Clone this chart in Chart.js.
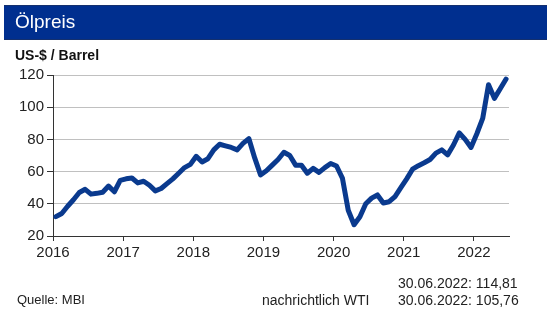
<!DOCTYPE html>
<html>
<head>
    <meta charset="utf-8">
    <title>Ölpreis</title>
    <script src="https://cdn.jsdelivr.net/npm/chart.js@4.4.0/dist/chart.umd.min.js"></script>
    <style>
    body {
        margin: 0;
        background: #fff;
        font-family: "Liberation Sans", Arial, sans-serif;
    }
    #wrap {
        position: relative;
        width: 557px;
        height: 322px;
    }
    #kopf {
        position: absolute;
        left: 4px; top: 5px;
        width: 543px; height: 35px;
        background: #002f8f;
        border-top: 1px solid #14306e;
        border-bottom: 1px solid #14306e;
        box-sizing: border-box;
    }
    #kopf span {
        position: absolute;
        left: 11px; top: 5px;
        color: #fff;
        font-size: 19px;
    }
    .txt {
        position: absolute;
        color: #222;
        font-size: 14px;
        white-space: nowrap;
    }
    </style>
</head>

<body>
<div id="wrap">
    <canvas id="myCanvas" width="557" height="322"></canvas>
    <div id="kopf"><span>Ölpreis</span></div>
    <div class="txt" style="left:15px; top:47px; font-weight:bold; font-size:14px; color:#111;">US-$ / Barrel</div>
    <div class="txt" style="left:17px; top:292px; font-size:13px;">Quelle: MBI</div>
    <div class="txt" style="left:262px; top:292px;">nachrichtlich WTI</div>
    <div class="txt" style="left:398px; top:275px;">30.06.2022: 114,81</div>
    <div class="txt" style="left:398px; top:292px;">30.06.2022: 105,76</div>
</div>

<script>
// Brent, Monatswerte in US-$ je Barrel (Jan bis Dez)
var p2016 = [32, 34, 38.5, 42.5, 47, 49, 46, 46.5, 47.2, 51, 47.5, 54.5];
var p2017 = [55.5, 56, 53, 54, 51.5, 48, 49.5, 52.5, 55.5, 59, 62.5, 64.5];
var p2018 = [69.5, 66, 68, 73.5, 77, 76, 75, 73.5, 77.5, 80.5, 68.5, 58];
var p2019 = [60.5, 64, 67.5, 72, 70, 64, 64, 59, 62, 59.5, 62.5, 65];
var p2020 = [63.5, 56, 36, 27, 32, 40, 43.5, 45.5, 40.5, 41.3, 44.5, 50];
var p2021 = [55.5, 61.5, 63.7, 65.5, 67.5, 71.5, 73.5, 70.4, 76.5, 84, 80, 75];
var p2022 = [83.5, 93, 114, 105.5, 111.5, 117.5];

var startJahr = 2016;
var jahre = [2016, 2017, 2018, 2019, 2020, 2021, 2022];
var yTicks = [20, 40, 60, 80, 100, 120];

var werte = [].concat(p2016, p2017, p2018, p2019, p2020, p2021, p2022);
// each month sits in the middle of its month on the time axis
var punkte = werte.map(function(v, i) {
    return {x: startJahr + (i + 0.5) / 12, y: v};
});

var schrift = {family: '"Liberation Sans", Arial, sans-serif', size: 15};

new Chart(document.getElementById("myCanvas"), {
    type: 'line',
    data: {
        datasets: [{
            label: 'Ölpreis',
            data: punkte,
            borderColor: '#0a3a8e',
            borderWidth: 5,
            borderJoinStyle: 'round',
            borderCapStyle: 'round',
            pointRadius: 0,
            tension: 0,
            fill: false
        }]
    },
    options: {
        responsive: false,
        animation: false,
        layout: {
            padding: {left: 0, right: 48, top: 75, bottom: 56}
        },
        plugins: {
            legend: {display: false},
            tooltip: {enabled: false}
        },
        scales: {
            x: {
                type: 'linear',
                min: startJahr,
                max: 2022.5,
                afterBuildTicks: function(scale) {
                    scale.ticks = jahre.map(function(j) { return {value: j}; });
                },
                afterFit: function(scale) { scale.height = 30; },
                grid: {
                    drawOnChartArea: false,
                    drawTicks: true,
                    tickLength: 5,
                    tickColor: '#333'
                },
                border: {color: '#333', width: 1},
                ticks: {
                    autoSkip: false,
                    maxRotation: 0,
                    padding: 3,
                    color: '#222',
                    font: schrift,
                    callback: function(v) { return String(v); }
                }
            },
            y: {
                min: 20,
                max: 120,
                afterBuildTicks: function(scale) {
                    scale.ticks = yTicks.map(function(t) { return {value: t}; });
                },
                afterFit: function(scale) { scale.width = 53; },
                grid: {
                    color: '#c0c0c0',
                    lineWidth: 1,
                    drawTicks: true,
                    tickLength: 6,
                    tickColor: '#333'
                },
                border: {color: '#333', width: 1},
                ticks: {
                    padding: 3,
                    color: '#222',
                    font: schrift
                }
            }
        }
    }
});
</script>
</body>
</html>
